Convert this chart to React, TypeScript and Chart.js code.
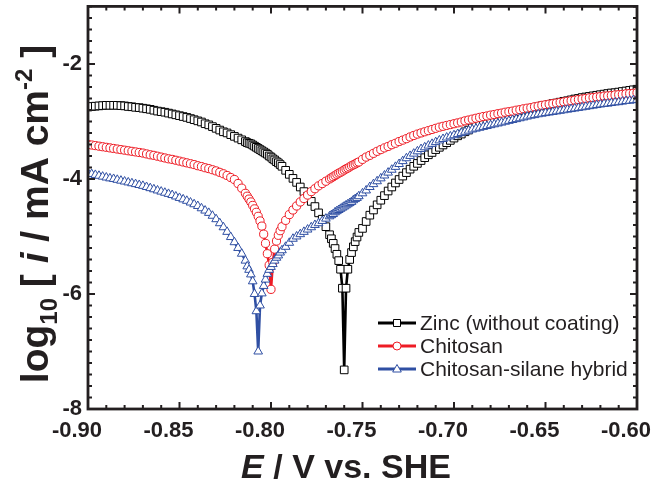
import React, { useEffect, useRef } from 'react';
import { Chart, registerables } from 'chart.js';

Chart.register(...registerables);

// Potential E / V vs. SHE (shared sweep grid)
const potentials = [
  -0.900, -0.898, -0.896, -0.894, -0.892, -0.890, -0.888, -0.886, -0.884, -0.882,
  -0.880, -0.878, -0.876, -0.874, -0.872, -0.870, -0.868, -0.866, -0.864, -0.862,
  -0.860, -0.858, -0.856, -0.854, -0.852, -0.850, -0.848, -0.846, -0.844, -0.842,
  -0.840, -0.838, -0.836, -0.834, -0.832, -0.830, -0.828, -0.826, -0.824, -0.822,
  -0.820, -0.818, -0.816, -0.814,
  -0.813, -0.812, -0.811, -0.810, -0.809, -0.808, -0.807, -0.806, -0.805, -0.804,
  -0.803, -0.802, -0.801, -0.800, -0.799, -0.798, -0.797, -0.796, -0.795, -0.794,
  -0.792, -0.790, -0.788, -0.786, -0.784, -0.782, -0.780, -0.778, -0.776, -0.774,
  -0.772, -0.770, -0.768,
  -0.767, -0.766, -0.765, -0.764, -0.763, -0.762, -0.761, -0.760, -0.759, -0.758,
  -0.757, -0.756, -0.755, -0.754, -0.753, -0.752,
  -0.750, -0.748, -0.746, -0.744, -0.742, -0.740, -0.738, -0.736, -0.734, -0.732,
  -0.730, -0.728, -0.726, -0.724, -0.722, -0.720, -0.718, -0.716, -0.714, -0.712,
  -0.710, -0.708, -0.706, -0.704, -0.702, -0.700, -0.698, -0.696, -0.694, -0.692,
  -0.690, -0.688, -0.686, -0.684, -0.682, -0.680, -0.678, -0.676, -0.674, -0.672,
  -0.670, -0.668, -0.666, -0.664, -0.662, -0.660, -0.658, -0.656, -0.654, -0.652,
  -0.650, -0.648, -0.646, -0.644, -0.642, -0.640, -0.638, -0.636, -0.634, -0.632,
  -0.630, -0.628, -0.626, -0.624, -0.622, -0.620, -0.618, -0.616, -0.614, -0.612,
  -0.610, -0.608, -0.606, -0.604, -0.602, -0.600,
];

// log10 [ i / mA cm-2 ]
const zincLog = [
  -2.75, -2.74, -2.735, -2.73, -2.725, -2.72, -2.72, -2.72, -2.72, -2.725,
  -2.73, -2.74, -2.745, -2.755, -2.76, -2.77, -2.78, -2.79, -2.805, -2.82,
  -2.83, -2.84, -2.855, -2.87, -2.885, -2.90, -2.915, -2.93, -2.95, -2.97,
  -2.99, -3.01, -3.04, -3.06, -3.09, -3.12, -3.15, -3.18, -3.20, -3.23,
  -3.26, -3.29, -3.32, -3.35,
  -3.37, -3.38, -3.39, -3.41, -3.43, -3.45, -3.47, -3.49, -3.51, -3.53,
  -3.55, -3.57, -3.60, -3.62, -3.65, -3.67, -3.70, -3.72, -3.75, -3.78,
  -3.85, -3.92, -3.99, -4.06, -4.14, -4.22, -4.30, -4.39, -4.48, -4.59,
  -4.70, -4.83, -4.97,
  -5.04, -5.12, -5.21, -5.31, -5.42, -5.57, -5.90, -7.32, -5.90, -5.57,
  -5.40, -5.28, -5.18, -5.09, -5.01, -4.93,
  -4.86, -4.74, -4.63, -4.54, -4.45, -4.37, -4.29, -4.21, -4.14, -4.07,
  -4.01, -3.95, -3.89, -3.83, -3.78, -3.73, -3.68, -3.63, -3.58, -3.54,
  -3.49, -3.45, -3.41, -3.37, -3.33, -3.29, -3.25, -3.22, -3.18, -3.15,
  -3.11, -3.08, -3.06, -3.03, -3.01, -2.99, -2.97, -2.95, -2.93, -2.91,
  -2.89, -2.87, -2.85, -2.83, -2.81, -2.79, -2.775, -2.76, -2.745, -2.73,
  -2.72, -2.705, -2.69, -2.68, -2.665, -2.65, -2.64, -2.625, -2.61, -2.60,
  -2.585, -2.575, -2.565, -2.555, -2.545, -2.535, -2.525, -2.515, -2.505, -2.50,
  -2.49, -2.48, -2.47, -2.46, -2.45, -2.44,
];

const chitosanLog = [
  -3.40, -3.41, -3.42, -3.43, -3.44, -3.45, -3.46, -3.47, -3.48, -3.49,
  -3.50, -3.51, -3.52, -3.53, -3.54, -3.55, -3.565, -3.58, -3.59, -3.605,
  -3.62, -3.635, -3.65, -3.66, -3.675, -3.69, -3.705, -3.72, -3.735, -3.75,
  -3.77, -3.785, -3.805, -3.82, -3.84, -3.86, -3.885, -3.91, -3.94, -3.975,
  -4.01, -4.08, -4.16, -4.25,
  -4.30, -4.35, -4.40, -4.46, -4.52, -4.58, -4.65, -4.73, -4.82, -4.96,
  -5.12, -5.30, -5.50, -5.92, -5.45, -5.22, -5.08, -4.98, -4.90, -4.83,
  -4.72, -4.62, -4.54, -4.47, -4.40, -4.34, -4.28, -4.22, -4.17, -4.12,
  -4.08, -4.04, -4.00,
  -3.98, -3.96, -3.94, -3.92, -3.90, -3.885, -3.865, -3.845, -3.825, -3.81,
  -3.79, -3.77, -3.755, -3.74, -3.72, -3.705,
  -3.66, -3.62, -3.59, -3.555, -3.52, -3.49, -3.46, -3.435, -3.405, -3.38,
  -3.35, -3.325, -3.30, -3.27, -3.245, -3.22, -3.20, -3.18, -3.16, -3.14,
  -3.12, -3.10, -3.085, -3.07, -3.055, -3.04, -3.025, -3.01, -2.99, -2.975,
  -2.96, -2.945, -2.93, -2.915, -2.905, -2.89, -2.88, -2.865, -2.855, -2.84,
  -2.83, -2.82, -2.805, -2.795, -2.78, -2.77, -2.76, -2.745, -2.735, -2.72,
  -2.71, -2.70, -2.69, -2.68, -2.67, -2.66, -2.65, -2.64, -2.63, -2.62,
  -2.61, -2.60, -2.59, -2.585, -2.575, -2.57, -2.56, -2.555, -2.55, -2.54,
  -2.535, -2.53, -2.52, -2.515, -2.51, -2.50,
];

const hybridLog = [
  -3.90, -3.915, -3.93, -3.945, -3.96, -3.975, -3.99, -4.00, -4.015, -4.03,
  -4.045, -4.06, -4.075, -4.09, -4.105, -4.12, -4.14, -4.16, -4.18, -4.20,
  -4.22, -4.24, -4.26, -4.28, -4.305, -4.33, -4.355, -4.38, -4.41, -4.44,
  -4.47, -4.51, -4.55, -4.59, -4.64, -4.70, -4.77, -4.84, -4.92, -5.01,
  -5.10, -5.20, -5.30, -5.42,
  -5.52, -5.58, -5.66, -5.78, -6.00, -6.30, -7.00, -6.20, -5.99, -5.86,
  -5.75, -5.65, -5.58, -5.53, -5.48, -5.42, -5.37, -5.33, -5.28, -5.24,
  -5.18, -5.11, -5.04, -5.00, -4.96, -4.92, -4.88, -4.84, -4.80, -4.77,
  -4.73, -4.69, -4.65,
  -4.63, -4.61, -4.58, -4.56, -4.54, -4.52, -4.50, -4.48, -4.46, -4.44,
  -4.42, -4.40, -4.37, -4.35, -4.33, -4.30,
  -4.25, -4.20, -4.14, -4.09, -4.04, -3.99, -3.94, -3.89, -3.84, -3.79,
  -3.74, -3.69, -3.64, -3.60, -3.56, -3.52, -3.48, -3.45, -3.42, -3.39,
  -3.36, -3.33, -3.305, -3.28, -3.26, -3.24, -3.22, -3.20, -3.18, -3.16,
  -3.14, -3.125, -3.11, -3.095, -3.08, -3.065, -3.05, -3.035, -3.02, -3.005,
  -2.99, -2.975, -2.96, -2.945, -2.93, -2.915, -2.90, -2.89, -2.875, -2.865,
  -2.855, -2.845, -2.835, -2.825, -2.815, -2.805, -2.795, -2.785, -2.775, -2.765,
  -2.755, -2.745, -2.735, -2.725, -2.715, -2.705, -2.695, -2.69, -2.68, -2.67,
  -2.665, -2.655, -2.645, -2.64, -2.63, -2.625,
];

const seriesNames = ['Zinc (without coating)', 'Chitosan', 'Chitosan-silane hybrid'];
const seriesColors = ['#000000', '#ee1c25', '#2f4fa3'];
const xTickValues = [-0.9, -0.85, -0.8, -0.75, -0.7, -0.65, -0.6];
const yTickValues = [-8, -6, -4, -2];

const FONT = '"Liberation Sans", Arial, Helvetica, sans-serif';
const INK = '#231f20';

function drawRich(ctx: CanvasRenderingContext2D, segs: { t: string; f: string; dy?: number }[], x: number, y: number, angle: number) {
  ctx.save();
  ctx.translate(x, y);
  ctx.rotate(angle);
  let total = 0;
  for (const s of segs) {
    ctx.font = s.f;
    total += ctx.measureText(s.t).width;
  }
  let cx = -total / 2;
  ctx.textAlign = 'left';
  ctx.textBaseline = 'alphabetic';
  ctx.fillStyle = INK;
  for (const s of segs) {
    ctx.font = s.f;
    ctx.fillText(s.t, cx, s.dy || 0);
    cx += ctx.measureText(s.t).width;
  }
  ctx.restore();
}

function drawMarker(ctx: CanvasRenderingContext2D, kind: string, x: number, y: number, color: string) {
  ctx.save();
  ctx.fillStyle = '#fff';
  ctx.strokeStyle = color;
  ctx.lineWidth = 1;
  ctx.beginPath();
  if (kind === 'rect') {
    ctx.rect(x - 3.5, y - 3.5, 7, 7);
  } else if (kind === 'circle') {
    ctx.arc(x, y, 4, 0, Math.PI * 2);
  } else {
    ctx.moveTo(x, y - 4.5);
    ctx.lineTo(x + 4.3, y + 3);
    ctx.lineTo(x - 4.3, y + 3);
    ctx.closePath();
  }
  ctx.fill();
  ctx.stroke();
  ctx.restore();
}

const framePlugin = {
  id: 'frameTicks',
  afterDatasetsDraw(chart: any) {
    const { ctx, chartArea } = chart;
    const { left, right, top, bottom } = chartArea;
    const xs = chart.scales.x;
    const ys = chart.scales.y;
    ctx.save();
    ctx.strokeStyle = INK;
    ctx.lineWidth = 2;
    ctx.lineCap = 'butt';
    for (let i = 0; i <= 30; i++) {
      const px = xs.getPixelForValue(-0.9 + i * 0.01);
      const len = i % 5 === 0 ? 7 : 4;
      ctx.beginPath();
      ctx.moveTo(px, bottom);
      ctx.lineTo(px, bottom - len);
      ctx.moveTo(px, top);
      ctx.lineTo(px, top + len);
      ctx.stroke();
    }
    for (let i = 0; i <= 35; i++) {
      const py = ys.getPixelForValue(-8 + i * 0.2);
      const len = i % 10 === 0 ? 7 : 4;
      ctx.beginPath();
      ctx.moveTo(left, py);
      ctx.lineTo(left + len, py);
      ctx.moveTo(right, py);
      ctx.lineTo(right - len, py);
      ctx.stroke();
    }
    ctx.lineWidth = 2.8;
    ctx.strokeRect(left, top, right - left, bottom - top);
    ctx.restore();
  },
  afterDraw(chart: any) {
    const { ctx } = chart;
    // Legend
    const kinds = ['rect', 'circle', 'triangle'];
    const rows = [323, 346, 369];
    ctx.save();
    for (let i = 0; i < 3; i++) {
      const y = rows[i];
      ctx.strokeStyle = seriesColors[i];
      ctx.lineWidth = 3;
      ctx.beginPath();
      ctx.moveTo(378, y);
      ctx.lineTo(416, y);
      ctx.stroke();
      drawMarker(ctx, kinds[i], 397, y, seriesColors[i]);
      ctx.fillStyle = INK;
      ctx.font = `21px ${FONT}`;
      ctx.textAlign = 'left';
      ctx.textBaseline = 'middle';
      ctx.fillText(seriesNames[i], 420, y + 1);
    }
    ctx.restore();
    // Axis titles
    const big = `bold 34px ${FONT}`;
    const bigIt = `italic bold 34px ${FONT}`;
    drawRich(ctx, [
      { t: 'E', f: bigIt },
      { t: ' / V vs. SHE', f: big },
    ], 346, 478, 0);
    const yBig = `bold 39px ${FONT}`;
    const yBigIt = `italic bold 39px ${FONT}`;
    const ySmall = `bold 24px ${FONT}`;
    drawRich(ctx, [
      { t: 'log', f: yBig },
      { t: '10', f: ySmall, dy: 9 },
      { t: ' [ ', f: yBig },
      { t: 'i', f: yBigIt },
      { t: ' / mA cm', f: yBig },
      { t: '-2', f: ySmall, dy: -16 },
      { t: ' ]', f: yBig },
    ], 48, 214, -Math.PI / 2);
  },
};

export default function App() {
  const ref = useRef<HTMLCanvasElement | null>(null);
  useEffect(() => {
    if (!ref.current) return;
    const logs = [zincLog, chitosanLog, hybridLog];
    const styles = ['rect', 'circle', 'triangle'];
    const radii = [5.4, 4.1, 5.0];
    const datasets = logs.map((vals, k) => ({
      label: seriesNames[k],
      data: potentials.map((x, i) => ({ x, y: vals[i] })),
      showLine: true,
      borderColor: seriesColors[k],
      borderWidth: 2.6,
      pointStyle: styles[k],
      pointRadius: radii[k],
      pointBorderColor: seriesColors[k],
      pointBackgroundColor: '#ffffff',
      pointBorderWidth: 1,
      tension: 0,
      order: 3 - k,
    }));
    const tickFont = { family: FONT, size: 22, weight: 'bold' as const };
    const chart = new Chart(ref.current, {
      type: 'scatter',
      data: { datasets },
      plugins: [framePlugin],
      options: {
        animation: false,
        responsive: false,
        devicePixelRatio: 1,
        layout: { padding: { top: 5, right: 17, left: 0, bottom: 0 } },
        plugins: { legend: { display: false }, tooltip: { enabled: false } },
        events: [],
        scales: {
          x: {
            type: 'linear',
            min: -0.9,
            max: -0.6,
            afterBuildTicks: (s: any) => { s.ticks = xTickValues.map((v) => ({ value: v })); },
            afterFit: (s: any) => { s.height = 77; s.paddingLeft = 0; s.paddingRight = 0; },
            grid: { display: false, drawTicks: false },
            border: { display: false },
            ticks: {
              autoSkip: false,
              maxRotation: 0,
              padding: 9,
              labelOffset: -11,
              color: INK,
              font: tickFont,
              callback: (v: any) => Number(v).toFixed(2),
            },
          },
          y: {
            type: 'linear',
            min: -8,
            max: -1,
            afterBuildTicks: (s: any) => { s.ticks = yTickValues.map((v) => ({ value: v })); },
            afterFit: (s: any) => { s.width = 88; s.paddingTop = 0; s.paddingBottom = 0; },
            grid: { display: false, drawTicks: false },
            border: { display: false },
            ticks: {
              autoSkip: false,
              padding: 6,
              color: INK,
              font: tickFont,
              callback: (v: any) => String(v),
            },
          },
        },
      },
    } as any);
    return () => chart.destroy();
  }, []);
  return (
    <div style={{ position: 'absolute', left: 0, top: 0, width: 654, height: 486, background: '#fff' }}>
      <canvas ref={ref} width={654} height={486} style={{ display: 'block' }} />
    </div>
  );
}
